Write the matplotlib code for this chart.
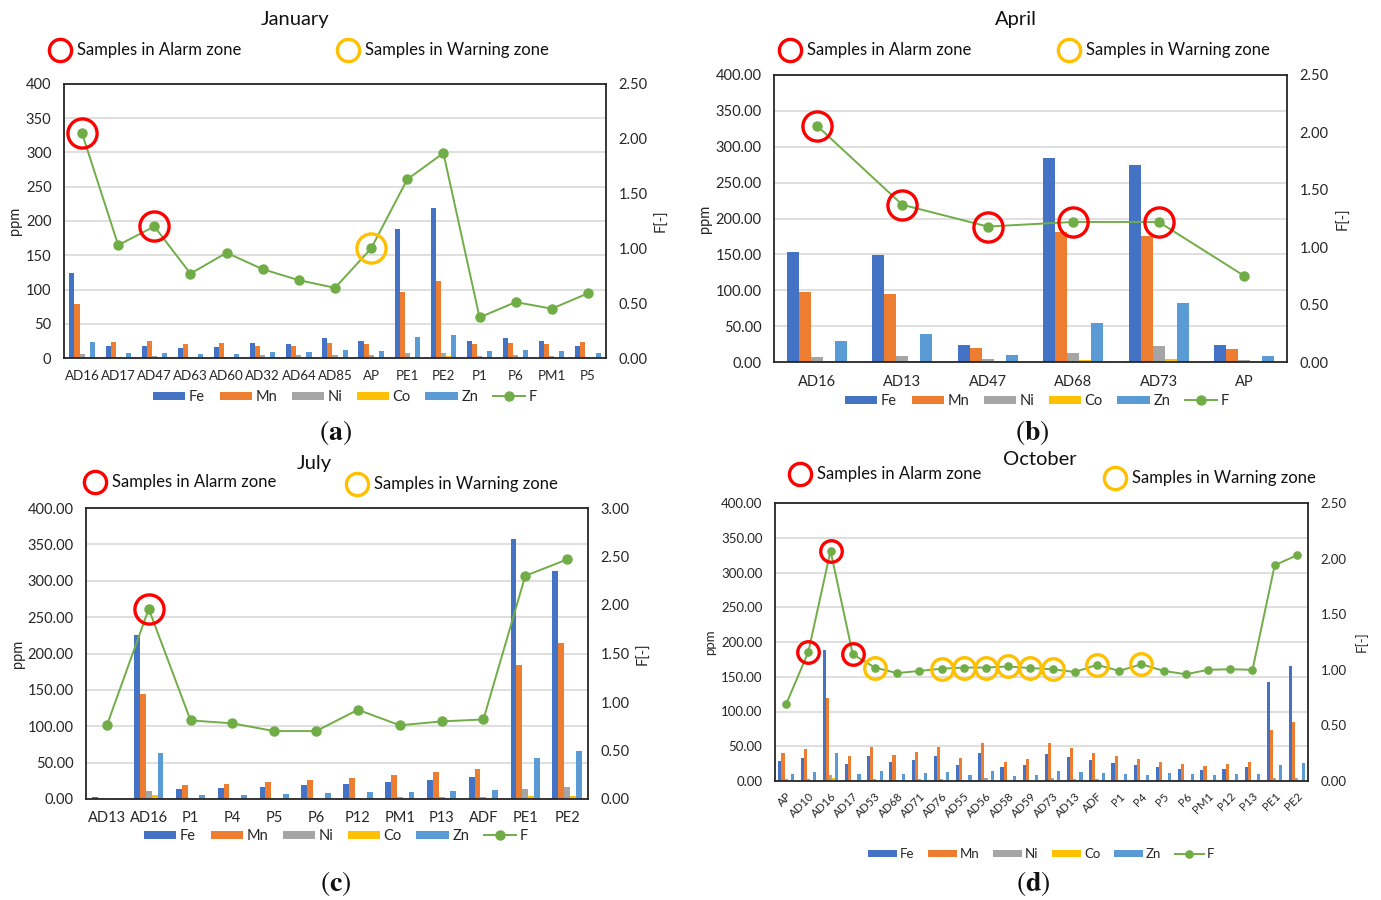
import matplotlib
matplotlib.use("Agg")
import matplotlib.pyplot as plt
from matplotlib.lines import Line2D
from matplotlib.patches import Patch
from matplotlib.ticker import FormatStrFormatter, MultipleLocator
import numpy as np

plt.rcParams['font.family'] = ['Lato', 'DejaVu Sans']
plt.rcParams['mathtext.fontset'] = 'stix'

# ---------------- data ----------------
ELEMENTS = ['Fe', 'Mn', 'Ni', 'Co', 'Zn']

# January
jan_samples = ['AD16', 'AD17', 'AD47', 'AD63', 'AD60', 'AD32', 'AD64', 'AD85',
               'AP', 'PE1', 'PE2', 'P1', 'P6', 'PM1', 'P5']
jan_fe = [124, 17, 18, 14.5, 16, 22, 21, 29, 25, 188, 219, 25, 29, 25, 18]
jan_mn = [79, 23, 25, 20, 22, 17, 17, 22, 21, 96, 113, 20, 22, 20, 24]
jan_ni = [6, 1, 3, 1, 1, 4, 4, 5, 5, 7, 8, 3, 4, 3, 1]
jan_co = [1, 0, 0, 0, 0, 0, 0, 0, 0, 1, 3, 0, 0, 0, 0]
jan_zn = [23.5, 7, 7, 6, 6, 9, 9, 11, 10, 30, 34, 10, 11, 10, 7]
jan_f = [2.05, 1.03, 1.20, 0.77, 0.96, 0.81, 0.71, 0.64, 1.00, 1.63, 1.87,
         0.37, 0.51, 0.45, 0.59]
jan_alarm = ['AD16', 'AD47']
jan_warning = ['AP']

# April
apr_samples = ['AD16', 'AD13', 'AD47', 'AD68', 'AD73', 'AP']
apr_fe = [153, 149, 24, 284, 275, 23]
apr_mn = [97, 95, 20, 181, 176, 18]
apr_ni = [7, 8, 4, 12, 22, 3]
apr_co = [2, 2, 0, 3, 4, 0]
apr_zn = [29, 39, 10, 55, 82, 9]
apr_f = [2.06, 1.37, 1.18, 1.22, 1.22, 0.75]
apr_alarm = ['AD16', 'AD13', 'AD47', 'AD68', 'AD73']
apr_warning = []

# July
jul_samples = ['AD13', 'AD16', 'P1', 'P4', 'P5', 'P6', 'P12', 'PM1', 'P13',
               'ADF', 'PE1', 'PE2']
jul_fe = [3, 226, 14, 15, 17, 19, 21, 24, 26.5, 30.5, 357, 314]
jul_mn = [2, 144, 19, 21, 23, 26, 29.5, 33, 36.5, 41.5, 184, 215]
jul_ni = [0, 11, 1, 1, 2, 2, 2, 3, 3, 3, 14, 16]
jul_co = [0, 5, 0, 0, 0, 0, 0, 0, 0, 0, 4, 4]
jul_zn = [0, 63, 5, 5, 7, 8, 9, 10, 11, 12, 57, 66]
jul_f = [0.76, 1.96, 0.81, 0.78, 0.70, 0.70, 0.92, 0.76, 0.80, 0.82, 2.30, 2.47]
jul_alarm = ['AD16']
jul_warning = []

# October
oct_samples = ['AP', 'AD10', 'AD16', 'AD17', 'AD53', 'AD68', 'AD71', 'AD76',
               'AD55', 'AD56', 'AD58', 'AD59', 'AD73', 'AD13', 'ADF', 'P1',
               'P4', 'P5', 'P6', 'PM1', 'P12', 'P13', 'PE1', 'PE2']
oct_fe = [29, 33, 188, 24.5, 35.5, 27, 30.5, 35.5, 23.5, 40, 20, 23.5, 39,
          34.5, 30, 26, 23.5, 20, 17.5, 15.5, 17.5, 20, 142, 166]
oct_mn = [40, 46, 120, 35.5, 49, 37, 42, 49, 33, 55, 28, 31.5, 54, 47, 41, 36,
          31.5, 28, 24.5, 21, 24.5, 27, 73, 85]
oct_ni = [3, 3, 8, 2, 3, 2, 3, 3, 2, 4, 2, 2, 4, 3, 3, 2, 2, 2, 1, 1, 1, 2, 4, 5]
oct_co = [0, 0, 5, 0, 0, 0, 0, 0, 0, 0, 0, 0, 0, 0, 0, 0, 0, 0, 0, 0, 0, 0, 2, 2]
oct_zn = [10.5, 13, 40, 9.5, 14, 10.5, 11.5, 13, 8, 15, 7, 8, 15, 13, 11.5, 9.5,
          8, 11.5, 9.5, 8, 9.5, 10.5, 22.5, 26]
oct_f = [0.69, 1.16, 2.07, 1.14, 1.02, 0.97, 0.99, 1.01, 1.02, 1.02, 1.03,
         1.015, 1.005, 0.98, 1.045, 0.99, 1.05, 0.99, 0.96, 1.00, 1.005, 1.00,
         1.94, 2.03]
oct_alarm = ['AD10', 'AD16', 'AD17']
oct_warning = ['AD53', 'AD76', 'AD55', 'AD56', 'AD58', 'AD59', 'AD73', 'ADF', 'P4']

# ---------------- style ----------------
COLORS = ['#4472C4', '#ED7D31', '#A5A5A5', '#FFC000', '#5B9BD5']
F_COLOR = '#70AD47'
ALARM = '#FF0000'
WARN = '#FFC000'
TXT = '#262626'
W, H = 1381, 900

fig = plt.figure(figsize=(W / 100, H / 100), dpi=100)


def fx(x):
    return x / W


def fy(y):
    return 1 - y / H


def ring(x, y, color, size=16):
    fig.add_artist(Line2D([fx(x)], [fy(y)], transform=fig.transFigure,
                          marker='o', markersize=size, markerfacecolor='none',
                          markeredgecolor=color, markeredgewidth=2.4,
                          linestyle='none'))


def panel(box, title, title_xy, alarm_xy, warn_xy, samples, series, fvals,
          alarm, warning, fmax, left_fmt, fs, xfs, ring_size, pt_size,
          legend_xy, legend_fs, ppm_x, f_x, letter, letter_xy, rotate=False):
    l, t, r, b = box
    ax = fig.add_axes([l / W, 1 - b / H, (r - l) / W, (b - t) / H])
    x = np.arange(len(samples))
    bw = 0.14
    for i, (vals, col) in enumerate(zip(series, COLORS)):
        ax.bar(x + (i - 2) * bw, vals, width=bw, color=col, zorder=2,
               linewidth=0)
    ax.set_xlim(-0.5, len(samples) - 0.5)
    ax.set_ylim(0, 400)
    ax.yaxis.set_major_locator(MultipleLocator(50))
    ax.yaxis.set_major_formatter(FormatStrFormatter(left_fmt))
    ax.set_axisbelow(True)
    ax.grid(axis='y', color='#D9D9D9', linewidth=1.2)
    ax.set_xticks(x)
    if rotate:
        ax.set_xticklabels(samples, rotation=45, ha='right',
                           rotation_mode='anchor', fontsize=xfs)
        ax.tick_params(axis='x', length=0, pad=7, colors=TXT)
    else:
        ax.set_xticklabels(samples, fontsize=xfs)
        ax.tick_params(axis='x', length=0, pad=9, colors=TXT)
    ax.tick_params(axis='y', length=0, pad=9, labelsize=fs, colors=TXT)
    for s in ax.spines.values():
        s.set_color('#262626')
        s.set_linewidth(1.3)

    ax2 = ax.twinx()
    ax2.set_ylim(0, fmax)
    ax2.yaxis.set_major_locator(MultipleLocator(0.5))
    ax2.yaxis.set_major_formatter(FormatStrFormatter('%.2f'))
    ax2.tick_params(axis='y', length=0, pad=9, labelsize=fs, colors=TXT)
    for s in ax2.spines.values():
        s.set_visible(False)
    ax2.plot(x, fvals, color=F_COLOR, linewidth=1.4, marker='o',
             markersize=pt_size, zorder=3)
    idx = {s: i for i, s in enumerate(samples)}
    for names, col in ((alarm, ALARM), (warning, WARN)):
        if names:
            ax2.plot([idx[n] for n in names], [fvals[idx[n]] for n in names],
                     linestyle='none', marker='o', markersize=ring_size,
                     markerfacecolor='none', markeredgecolor=col,
                     markeredgewidth=2.4, zorder=4, clip_on=False)

    # axis titles
    yc = (t + b) / 2
    fig.text(fx(ppm_x), fy(yc), 'ppm', rotation=90, ha='center', va='center',
             fontsize=fs, color=TXT)
    fig.text(fx(f_x), fy(yc), 'F[-]', rotation=90, ha='center', va='center',
             fontsize=fs, color=TXT)

    # header: title and zone keys
    fig.text(fx(title_xy[0]), fy(title_xy[1]), title, ha='center',
             va='center', fontsize=14.5, color='#111111')
    ring(alarm_xy[0], alarm_xy[1], ALARM)
    fig.text(fx(alarm_xy[0] + 17), fy(alarm_xy[1]), 'Samples in Alarm zone',
             ha='left', va='center', fontsize=12, color='#111111')
    ring(warn_xy[0], warn_xy[1], WARN)
    fig.text(fx(warn_xy[0] + 17), fy(warn_xy[1]), 'Samples in Warning zone',
             ha='left', va='center', fontsize=12, color='#111111')

    # series legend
    handles = [Patch(facecolor=c, edgecolor='none', label=e)
               for e, c in zip(ELEMENTS, COLORS)]
    handles.append(Line2D([], [], color=F_COLOR, linewidth=1.4, marker='o',
                          markersize=pt_size, label='F'))
    fig.legend(handles=handles, loc='center', ncol=6, frameon=False,
               bbox_to_anchor=(fx(legend_xy[0]), fy(legend_xy[1])),
               bbox_transform=fig.transFigure, fontsize=legend_fs,
               handlelength=2.2, handleheight=0.5, handletextpad=0.25,
               columnspacing=1.0, labelcolor=TXT)

    fig.text(fx(letter_xy[0]), fy(letter_xy[1]),
             r'$\mathrm{(}\mathbf{' + letter + r'}\mathrm{)}$',
             ha='center', va='center', fontsize=20, color='#111111')
    return ax


panel((64, 84, 606, 358), 'January', (295, 20), (60, 50), (348, 50),
      jan_samples, [jan_fe, jan_mn, jan_ni, jan_co, jan_zn], jan_f,
      jan_alarm, jan_warning, 2.5, '%d', 10.5, 9.6, 21, 6.5,
      (345, 397), 10.5, 15, 661, 'a', (335, 433))

panel((774, 75, 1287, 362), 'April', (1016, 20), (790, 50), (1069, 50),
      apr_samples, [apr_fe, apr_mn, apr_ni, apr_co, apr_zn], apr_f,
      apr_alarm, apr_warning, 2.5, '%.2f', 10.5, 10.5, 21, 6.5,
      (1037, 401), 10.5, 705, 1343, 'b', (1032, 433))

panel((86, 508, 588, 799), 'July', (314, 463), (95, 482), (357, 484),
      jul_samples, [jul_fe, jul_mn, jul_ni, jul_co, jul_zn], jul_f,
      jul_alarm, jul_warning, 3.0, '%.2f', 10.5, 10.5, 21, 6.5,
      (336, 836), 10.5, 18, 643, 'c', (336, 884))

panel((775, 503, 1308, 781), 'October', (1040, 460), (800, 474), (1115, 478),
      oct_samples, [oct_fe, oct_mn, oct_ni, oct_co, oct_zn], oct_f,
      oct_alarm, oct_warning, 2.5, '%.2f', 9.5, 8.3, 15.5, 5.2,
      (1041, 854), 9.5, 710, 1361, 'd', (1033, 884), rotate=True)

fig.savefig('out.png', dpi=100)
